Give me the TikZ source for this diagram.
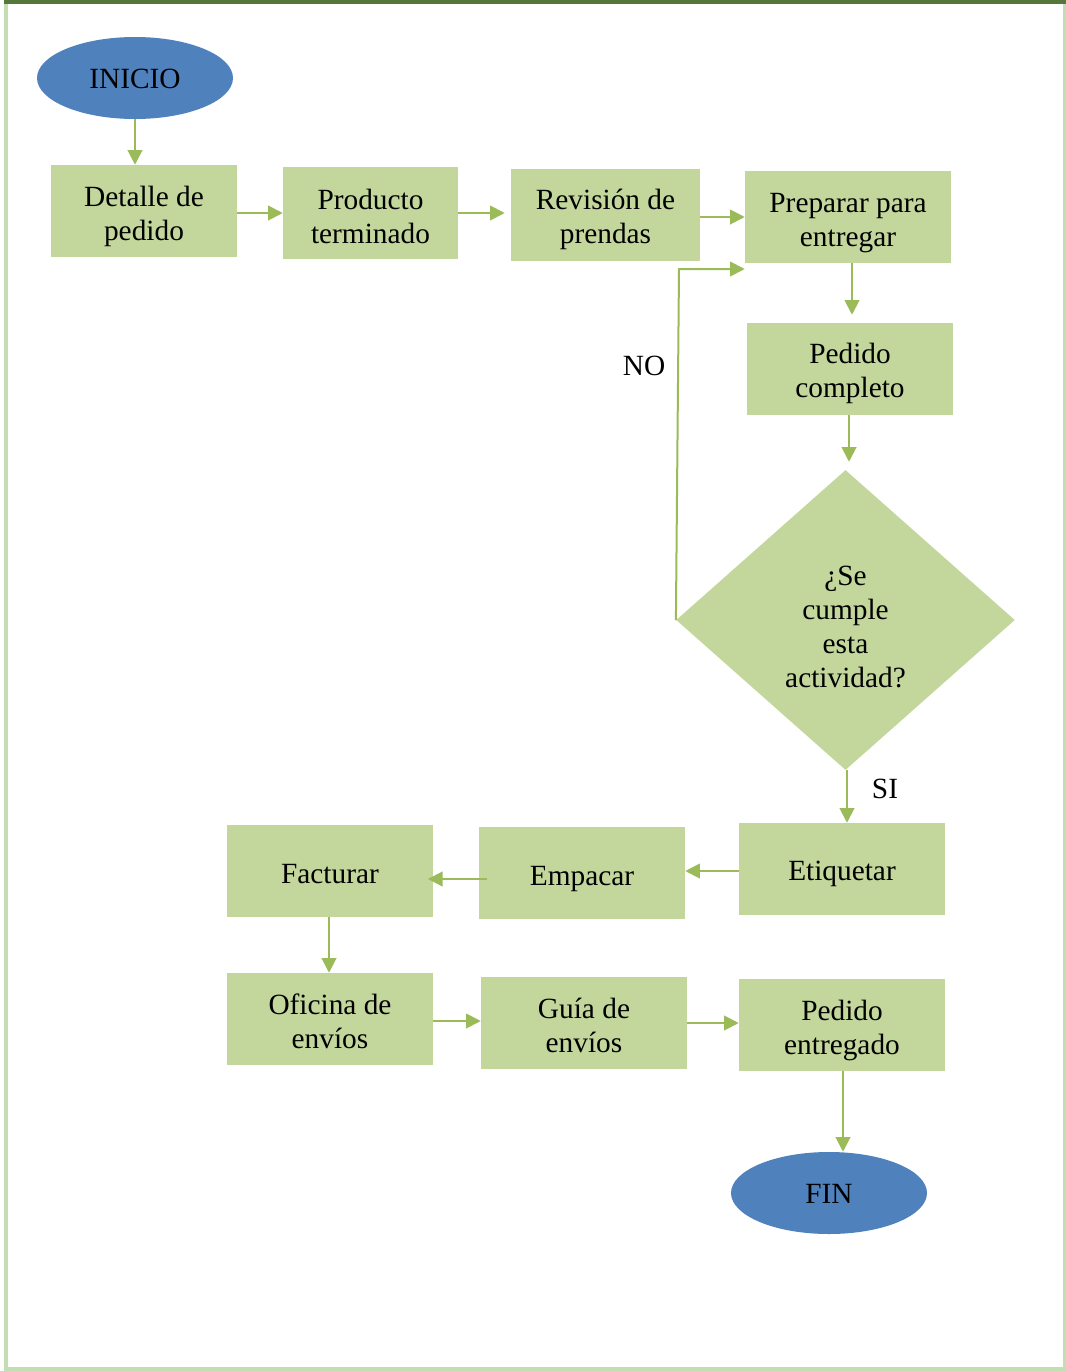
\documentclass[tikz,border=0pt]{standalone}
\usepackage{fontspec}
\setmainfont{Liberation Serif}
\usetikzlibrary{shapes.geometric,arrows.meta}
\definecolor{boxg}{HTML}{C3D69B}
\definecolor{arrg}{HTML}{9BBB59}
\definecolor{ellb}{HTML}{4F81BD}
\definecolor{frameg}{HTML}{C3DFB2}
\definecolor{topg}{HTML}{55773A}
\begin{document}
\begin{tikzpicture}[x=0.75pt,y=-0.75pt,
  txt/.style={font=\fontsize{22}{25.5}\selectfont},
  tl/.style={txt,align=center,inner sep=0pt,yshift=-#1*0.75pt},
  procbox/.style={rectangle,fill=boxg,inner sep=0pt,minimum width=154.5pt,minimum height=69pt},
  term/.style={ellipse,fill=ellb,inner sep=0pt,minimum width=147pt,minimum height=61.5pt},
  decis/.style={diamond,fill=boxg,inner sep=0pt,minimum width=254pt,minimum height=225pt},
  arr/.style={draw=arrg,line width=1.5pt,-{Triangle[length=11pt,width=11pt]}},
  lbl/.style={txt}]
\useasboundingbox (0,0) rectangle (1066,1371);
% frame
\draw[frameg,line width=3pt] (5.5,2) rectangle (1064.5,1369);
\draw[topg,line width=3pt] (4,1.5) -- (1066,1.5);
% nodes
\node[term,label={[tl=1]center:INICIO}] (ini) at (135,78) {};
\node[procbox,minimum width=139.5pt,label={[tl=5]center:{Detalle de\\pedido}}] (det) at (144,211) {};
\node[procbox,minimum width=131.25pt,label={[tl=3]center:{Producto\\terminado}}] (pro) at (370.5,213) {};
\node[procbox,minimum width=141.75pt,label={[tl=4]center:{Revisión de\\prendas}}] (rev) at (605.5,215) {};
\node[procbox,label={[tl=6]center:{Preparar para\\entregar}}] (pre) at (848,217) {};
\node[procbox,label={[tl=4]center:{Pedido\\completo}}] (pco) at (850,369) {};
\node[decis,label={[tl=7]center:{¿Se\\cumple\\esta\\actividad?}}] (dec) at (845.5,620) {};
\node[procbox,label={[tl=5]center:Etiquetar}] (eti) at (842,869) {};
\node[procbox,label={[tl=6]center:Empacar}] (emp) at (582,873) {};
\node[procbox,label={[tl=3]center:Facturar}] (fac) at (330,871) {};
\node[procbox,label={[tl=2]center:{Oficina de\\envíos}}] (ofi) at (330,1019) {};
\node[procbox,label={[tl=2]center:{Guía de\\envíos}}] (gui) at (584,1023) {};
\node[procbox,label={[tl=5]center:{Pedido\\entregado}}] (pen) at (842,1025) {};
\node[term,label={[tl=1]center:FIN}] (fin) at (829,1193) {};
\node[lbl] (no) at (644,366) {NO};
\node[lbl] (si) at (885,789) {SI};
% connectors
\draw[arr] (ini.south) -- (ini.south |- det.north);
\draw[arr] ([yshift=-1.5pt]det.east) -- ([yshift=-1.5pt]det.east -| pro.west);
\draw[arr,shorten >=4.5pt] (pro.east) -- (pro.east -| rev.west);
\draw[arr] ([yshift=-1.5pt]rev.east) -- ([yshift=-1.5pt]rev.east -| pre.west);
\draw[arr,shorten >=6pt] (pre.south -| 852,0) -- (pco.north -| 852,0);
\draw[arr,shorten >=6pt] (pco.south -| 849,0) -- (dec.north -| 849,0);
\coordinate (nob) at (679,269);
\draw[arr] (dec.west) -- (nob) -- (pre.west |- nob);
\draw[arr] (dec.south -| 847,0) -- (eti.north -| 847,0);
\draw[arr] ([yshift=-1.5pt]eti.west) -- ([yshift=-1.5pt]eti.west -| emp.east);
\draw[arr] ([xshift=6pt,yshift=-4.5pt]emp.west) -- ([xshift=-4pt,yshift=-4.5pt]emp.west -| fac.east);
\draw[arr] (fac.south -| 329,0) -- (ofi.north -| 329,0);
\draw[arr] ([yshift=-1.5pt]ofi.east) -- ([yshift=-1.5pt]ofi.east -| gui.west);
\draw[arr] (gui.east) -- (gui.east -| pen.west);
\draw[arr] (pen.south -| 843,0) -- (fin.north -| 843,0);
\end{tikzpicture}
\end{document}
